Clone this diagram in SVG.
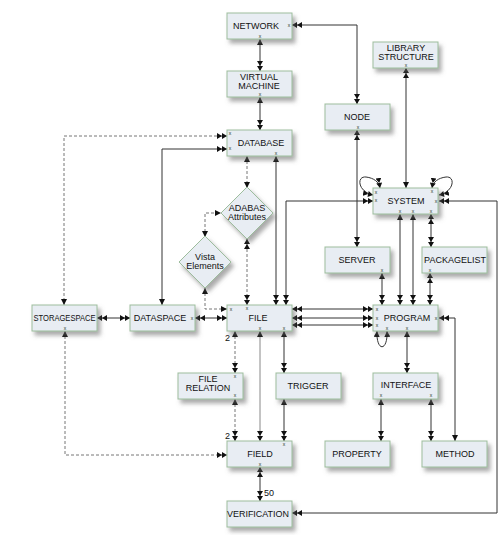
<svg xmlns="http://www.w3.org/2000/svg" width="500" height="535" viewBox="0 0 500 535">
<defs>
<filter id="sh" x="-20%" y="-20%" width="150%" height="160%">
<feDropShadow dx="3" dy="4" stdDeviation="2" flood-color="#666" flood-opacity="0.55"/>
</filter>
<marker id="s" viewBox="0 0 6 6" refX="6" refY="3" markerWidth="6" markerHeight="6" markerUnits="userSpaceOnUse" orient="auto-start-reverse">
<path d="M0,0 L6,3 L0,6 z" fill="#111"/>
</marker>
<marker id="d" viewBox="0 0 10 6" refX="10" refY="3" markerWidth="10" markerHeight="6" markerUnits="userSpaceOnUse" orient="auto-start-reverse">
<path d="M0,0 L5,3 L0,6 z M5,0 L10,3 L5,6 z" fill="#111"/>
</marker>
</defs>
<style>
.n rect,.n polygon{fill:#e8edf3;stroke:#9dbd9d;stroke-width:1;filter:url(#sh)}
.n text{font-family:"Liberation Sans",Arial,sans-serif;font-size:9px;fill:#111;text-anchor:middle}
.n text.x{font-size:5px;fill:#2a3a2a}
.c path{fill:none;stroke:#333;stroke-width:1}
.c path.ds{stroke:#777;stroke-dasharray:3 2}
.c path.lt{stroke:#888}
.lb{font-family:"Liberation Sans",Arial,sans-serif;font-size:9px;fill:#111}
</style>
<rect width="500" height="535" fill="#fff"/>

<g id="connectors" class="c">
<path d="M260,39 V71" marker-start="url(#s)" marker-end="url(#d)"/>
<path d="M260,97 V130" marker-start="url(#s)" marker-end="url(#d)"/>
<path d="M292,25 H357 V104" marker-start="url(#d)" marker-end="url(#d)"/>
<path d="M406,68 V188" marker-start="url(#d)" marker-end="url(#s)"/>
<path d="M357,130 V247" marker-start="url(#d)" marker-end="url(#d)"/>
<path class="ds" d="M227,136 H64 V305" marker-start="url(#d)" marker-end="url(#s)"/>
<path d="M227,149 H162 V305" marker-start="url(#d)" marker-end="url(#s)"/>
<path class="ds" d="M247,156 V188" marker-start="url(#s)" marker-end="url(#s)"/>
<path d="M276,156 V305" marker-start="url(#s)" marker-end="url(#d)"/>
<path d="M373,201 H286 V305" marker-start="url(#d)" marker-end="url(#d)"/>
<path d="M373,195 C358,192 356,176 366,177 C374,178 379,182 380,188" marker-start="url(#d)" marker-end="url(#d)"/>
<path d="M432,188 C433,182 438,178 446,177 C456,176 454,192 439,195" marker-start="url(#d)" marker-end="url(#d)"/>
<path d="M400,214 V305" marker-start="url(#s)" marker-end="url(#d)"/>
<path d="M413,214 V305" marker-start="url(#s)" marker-end="url(#d)"/>
<path d="M431,214 V247" marker-start="url(#d)" marker-end="url(#d)"/>
<path d="M382,273 V305" marker-start="url(#s)" marker-end="url(#d)"/>
<path d="M430,273 V305" marker-start="url(#d)" marker-end="url(#d)"/>
<path d="M439,201 H497 V513 H292" marker-start="url(#d)" marker-end="url(#d)"/>
<path class="ds" d="M205,237 V213 H221" marker-start="url(#s)" marker-end="url(#s)"/>
<path class="ds" d="M247,239 V305" marker-start="url(#d)" marker-end="url(#d)"/>
<path class="ds" d="M205,288 V309 H227" marker-start="url(#s)" marker-end="url(#s)"/>
<path d="M97,318 H130" marker-start="url(#d)" marker-end="url(#d)"/>
<path d="M195,318 H227" marker-start="url(#d)" marker-end="url(#d)"/>
<path d="M292,309 H373" marker-start="url(#d)" marker-end="url(#d)"/>
<path d="M292,318 H373" marker-start="url(#d)" marker-end="url(#d)"/>
<path d="M292,325 H373" marker-start="url(#d)" marker-end="url(#d)"/>
<path d="M439,318 H455 V441" marker-start="url(#d)" marker-end="url(#s)"/>
<path d="M377,331 C376,352 388,352 387,331" marker-start="url(#s)" marker-end="url(#s)"/>
<path d="M407,331 V373" marker-start="url(#s)" marker-end="url(#d)"/>
<path class="ds" d="M235,331 V373" marker-start="url(#s)" marker-end="url(#d)"/>
<path class="ds" d="M235,399 V441" marker-start="url(#s)" marker-end="url(#d)"/>
<path class="lt" d="M260,331 V441" marker-start="url(#s)" marker-end="url(#d)"/>
<path d="M284,331 V373" marker-start="url(#s)" marker-end="url(#d)"/>
<path d="M284,399 V441" marker-start="url(#s)" marker-end="url(#d)"/>
<path class="ds" d="M65,331 V455 H227" marker-start="url(#s)" marker-end="url(#d)"/>
<path d="M381,399 V441" marker-start="url(#s)" marker-end="url(#d)"/>
<path d="M431,399 V441" marker-start="url(#s)" marker-end="url(#d)"/>
<path d="M260,467 V501" marker-start="url(#d)" marker-end="url(#d)"/>
<text class="lb" x="225" y="341">2</text>
<text class="lb" x="225" y="439">2</text>
<text class="lb" x="264" y="496">50</text>
</g>

<g id="network" class="n"><rect x="227" y="13" width="65" height="26"/><text x="256" y="29">NETWORK</text><text class="x" x="289" y="27">x</text><text class="x" x="260" y="38">x</text></g>
<g id="virtual-machine" class="n"><rect x="227" y="71" width="65" height="26"/><text x="259" y="80">VIRTUAL</text><text x="259" y="89">MACHINE</text><text class="x" x="260" y="96">x</text></g>
<g id="library-structure" class="n"><rect x="373" y="42" width="65" height="26"/><text x="406" y="51">LIBRARY</text><text x="406" y="60">STRUCTURE</text><text class="x" x="406" y="67">x</text></g>
<g id="node" class="n"><rect x="325" y="104" width="65" height="26"/><text x="357" y="120">NODE</text><text class="x" x="358" y="129">x</text></g>
<g id="database" class="n"><rect x="227" y="130" width="65" height="26"/><text x="261" y="146">DATABASE</text><text class="x" x="230" y="135">x</text><text class="x" x="230" y="150">x</text><text class="x" x="276" y="155">x</text></g>
<g id="adabas-attributes" class="n"><polygon points="247,187 273,213 247,239 221,213"/><text x="247" y="211">ADABAS</text><text x="247" y="220">Attributes</text></g>
<g id="vista-elements" class="n"><polygon points="205,236 231,262 205,288 179,262"/><text x="205" y="260">Vista</text><text x="205" y="269">Elements</text></g>
<g id="system" class="n"><rect x="373" y="188" width="65" height="26"/><text x="406" y="204">SYSTEM</text><text class="x" x="376" y="194">x</text><text class="x" x="376" y="202">x</text><text class="x" x="432" y="193">x</text><text class="x" x="436" y="203">x</text><text class="x" x="400" y="213">x</text><text class="x" x="413" y="213">x</text><text class="x" x="431" y="213">x</text></g>
<g id="server" class="n"><rect x="325" y="247" width="65" height="26"/><text x="357" y="263">SERVER</text><text class="x" x="382" y="272">x</text></g>
<g id="packagelist" class="n"><rect x="422" y="247" width="65" height="26"/><text x="455" y="263">PACKAGELIST</text><text class="x" x="430" y="272">x</text></g>
<g id="storagespace" class="n"><rect x="32" y="305" width="65" height="26"/><text x="64.5" y="321" textLength="62" lengthAdjust="spacingAndGlyphs">STORAGESPACE</text><text class="x" x="65" y="330">x</text></g>
<g id="dataspace" class="n"><rect x="130" y="305" width="65" height="26"/><text x="160" y="321">DATASPACE</text><text class="x" x="192" y="320">x</text></g>
<g id="file" class="n"><rect x="227" y="305" width="65" height="26"/><text x="258" y="321">FILE</text><text class="x" x="231" y="311">x</text><text class="x" x="247" y="310">x</text><text class="x" x="260" y="330">x</text><text class="x" x="284" y="330">x</text></g>
<g id="program" class="n"><rect x="373" y="305" width="65" height="26"/><text x="407" y="321">PROGRAM</text><text class="x" x="377" y="311">x</text><text class="x" x="377" y="320">x</text><text class="x" x="377" y="327">x</text><text class="x" x="387" y="330">x</text><text class="x" x="407" y="330">x</text><text class="x" x="436" y="320">x</text></g>
<g id="file-relation" class="n"><rect x="178" y="373" width="65" height="26"/><text x="208" y="382">FILE</text><text x="208" y="391">RELATION</text><text class="x" x="235" y="378">x</text><text class="x" x="235" y="397">x</text></g>
<g id="trigger" class="n"><rect x="276" y="373" width="65" height="26"/><text x="308" y="389">TRIGGER</text></g>
<g id="interface" class="n"><rect x="373" y="373" width="65" height="26"/><text x="406" y="388">INTERFACE</text><text class="x" x="381" y="397">x</text><text class="x" x="431" y="397">x</text></g>
<g id="field" class="n"><rect x="227" y="441" width="65" height="26"/><text x="260" y="457">FIELD</text><text class="x" x="284" y="446">x</text><text class="x" x="260" y="466">x</text></g>
<g id="property" class="n"><rect x="325" y="441" width="65" height="26"/><text x="357" y="457">PROPERTY</text></g>
<g id="method" class="n"><rect x="422" y="441" width="65" height="26"/><text x="455" y="457">METHOD</text></g>
<g id="verification" class="n"><rect x="227" y="501" width="65" height="26"/><text x="258" y="517" textLength="62" lengthAdjust="spacingAndGlyphs">VERIFICATION</text></g>
</svg>
